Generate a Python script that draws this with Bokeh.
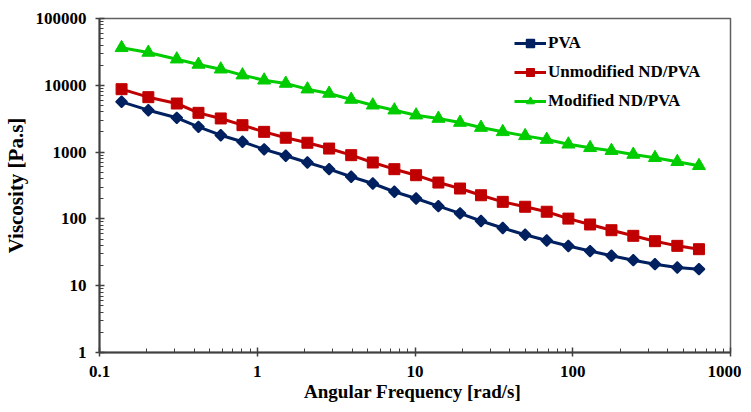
from bokeh.plotting import figure
from bokeh.models import FixedTicker, CustomJSTickFormatter, Legend, LegendItem
from bokeh.embed import file_html
from bokeh.resources import INLINE

# angular frequency [rad/s]
freq = [0.138, 0.204, 0.309, 0.424, 0.587, 0.806, 1.106, 1.516, 2.08, 2.855,
        3.94, 5.40, 7.40, 10.16, 14.07, 19.3, 26.2, 36.0, 49.9, 68.4,
        93.8, 128.8, 176, 242, 332, 460, 631]
# viscosity [Pa.s]
pva = [5660, 4240, 3260, 2390, 1790, 1430, 1100, 881, 699, 555,
       427, 339, 255, 202, 155, 121, 93, 73, 58, 47.5,
       39.3, 33.0, 28.1, 24.1, 21.0, 18.7, 17.7]
unmod = [8750, 6640, 5340, 3870, 3190, 2530, 2010, 1640, 1380, 1130,
         900, 699, 555, 451, 350, 285, 226, 180, 152, 128,
         101, 82.5, 67.7, 55.8, 46.4, 39.5, 35.2]
modif = [36400, 31000, 24600, 20500, 17400, 14200, 11900, 10640, 8750, 7540,
         6130, 5030, 4240, 3570, 3180, 2770, 2330, 2010, 1750, 1540,
         1310, 1160, 1050, 920, 822, 716, 624]

series_names = ["PVA", "Unmodified ND/PVA", "Modified ND/PVA"]
x_ticks = [0.1, 1, 10, 100, 1000]
y_ticks = [1, 10, 100, 1000, 10000, 100000]
x_minor = [m * d for d in [0.1, 1, 10, 100] for m in range(2, 10)]
y_minor = [m * d for d in [1, 10, 100, 1000, 10000] for m in range(2, 10)]

FONT = "Liberation Serif"
AX = "#404040"

p = figure(width=741, height=406, x_axis_type="log", y_axis_type="log",
           x_range=(0.1, 1000), y_range=(1, 100000),
           output_backend="svg", toolbar_location=None,
           min_border_left=99, min_border_right=11, min_border_top=18, min_border_bottom=54)

p.xgrid.visible = False
p.ygrid.visible = False
p.outline_line_color = "#606060"
p.outline_line_width = 1.5
p.background_fill_color = "white"
p.border_fill_color = "white"

fmt = CustomJSTickFormatter(code="return tick.toString();")
p.xaxis.ticker = FixedTicker(ticks=x_ticks, minor_ticks=x_minor)
p.yaxis.ticker = FixedTicker(ticks=y_ticks, minor_ticks=y_minor)
for ax in (p.xaxis, p.yaxis):
    ax.formatter = fmt
    ax.axis_line_color = AX
    ax.axis_line_width = 2
    ax.major_tick_line_color = AX
    ax.major_tick_line_width = 1.5
    ax.minor_tick_line_color = AX
    ax.minor_tick_line_width = 1
    ax.major_tick_in = 5
    ax.major_tick_out = 4
    ax.minor_tick_in = 4
    ax.minor_tick_out = 0
    ax.major_label_text_font = FONT
    ax.major_label_text_font_style = "bold"
    ax.major_label_text_font_size = "17px"
    ax.major_label_text_color = "black"
    ax.axis_label_text_font = FONT
    ax.axis_label_text_font_style = "bold"
    ax.axis_label_text_color = "black"
p.xaxis.major_label_standoff = 9
p.yaxis.major_label_standoff = 9

p.yaxis.axis_label = "Viscosity [Pa.s]"
p.yaxis.axis_label_text_font_size = "21px"
p.yaxis.axis_label_standoff = 5
p.xaxis.axis_label = "Angular  Frequency [rad/s]"
p.xaxis.axis_label_text_font_size = "19px"
p.xaxis.axis_label_standoff = 1

colors = ["#002060", "#C00000", "#00CC00"]
l1 = p.line(freq, pva, line_color=colors[0], line_width=3)
s1 = p.scatter(freq, pva, marker="square", angle=0.785398, size=8,
               fill_color=colors[0], line_color=colors[0], line_width=1.5)
l2 = p.line(freq, unmod, line_color=colors[1], line_width=3)
s2 = p.scatter(freq, unmod, marker="square", size=11,
               fill_color=colors[1], line_color=colors[1])
l3 = p.line(freq, modif, line_color=colors[2], line_width=3)
s3 = p.scatter(freq, modif, marker="triangle", size=13,
               fill_color=colors[2], line_color=colors[2])

items = [LegendItem(label=series_names[0], renderers=[l1, s1]),
         LegendItem(label=series_names[1], renderers=[l2, s2]),
         LegendItem(label=series_names[2], renderers=[l3, s3])]
legend = Legend(items=items, location=(415, 241), padding=0, margin=0,
                border_line_color=None, background_fill_alpha=0,
                glyph_width=32, glyph_height=20, label_height=20,
                spacing=9, label_standoff=2,
                label_text_font=FONT, label_text_font_style="bold",
                label_text_font_size="17px", label_text_color="black")
p.add_layout(legend)

open("out.html", "w").write(file_html(p, INLINE))
